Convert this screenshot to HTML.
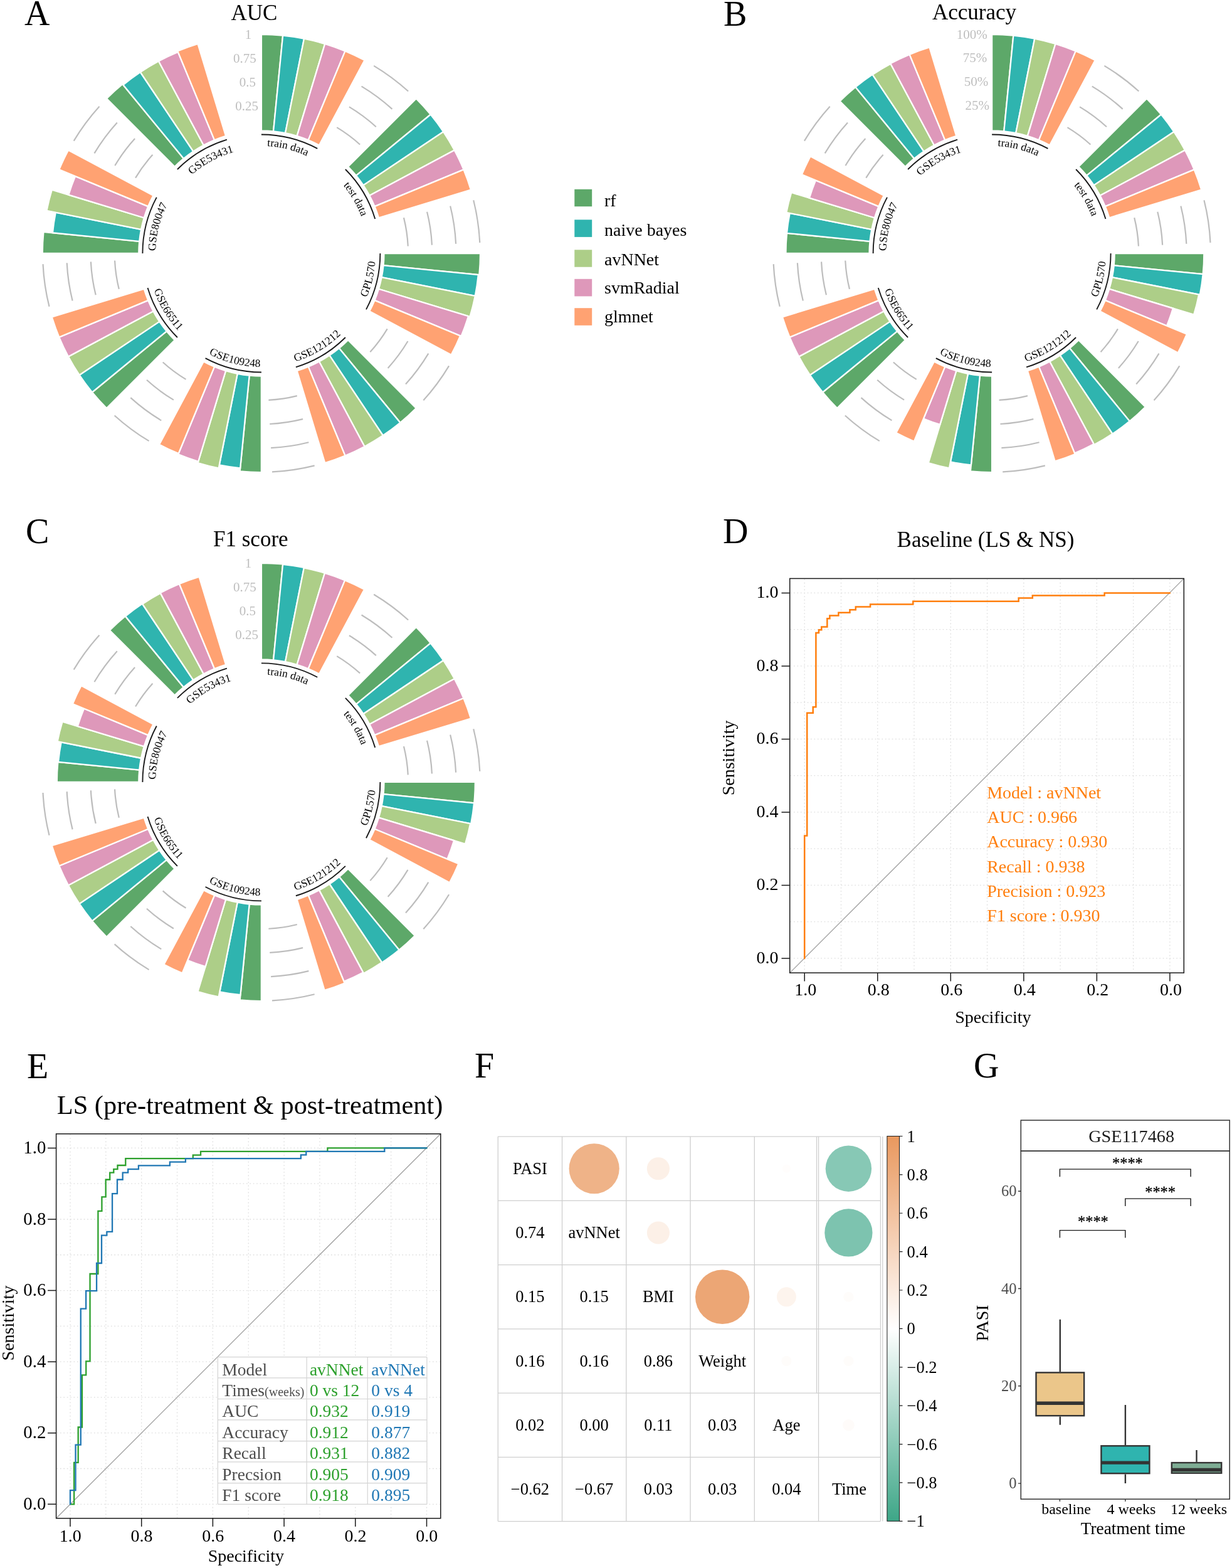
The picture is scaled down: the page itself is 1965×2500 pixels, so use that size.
<!DOCTYPE html>
<html><head><meta charset="utf-8"><title>Figure</title>
<style>html,body{margin:0;padding:0;background:#fff}svg{display:block}</style></head>
<body><svg width="1965" height="2500" viewBox="0 0 1965 2500" font-family='"Liberation Serif", "Times New Roman", serif'>
<rect width="1965" height="2500" fill="#fff"/>
<path d="M537.26 203.18A234.12 234.12 0 0 1 574.13 230.52M556.92 170.4A272.35 272.35 0 0 1 599.8 202.2M576.57 137.61A310.58 310.58 0 0 1 625.47 173.88M596.22 104.82A348.8 348.8 0 0 1 651.14 145.56M644.01 347.11A234.12 234.12 0 0 1 650.74 392.51M681.09 337.82A272.35 272.35 0 0 1 688.92 390.64M718.17 328.54A310.58 310.58 0 0 1 727.1 388.76M755.25 319.25A348.8 348.8 0 0 1 765.28 386.89M617.72 524.36A234.12 234.12 0 0 1 590.38 561.23M650.5 544.02A272.35 272.35 0 0 1 618.7 586.9M683.29 563.67A310.58 310.58 0 0 1 647.02 612.57M716.08 583.32A348.8 348.8 0 0 1 675.34 638.24M473.79 631.11A234.12 234.12 0 0 1 428.39 637.84M483.08 668.19A272.35 272.35 0 0 1 430.26 676.02M492.36 705.27A310.58 310.58 0 0 1 432.14 714.2M501.65 742.35A348.8 348.8 0 0 1 434.01 752.38M296.54 604.82A234.12 234.12 0 0 1 259.67 577.48M276.88 637.6A272.35 272.35 0 0 1 234 605.8M257.23 670.39A310.58 310.58 0 0 1 208.33 634.12M237.58 703.18A348.8 348.8 0 0 1 182.66 662.44M189.79 460.89A234.12 234.12 0 0 1 183.06 415.49M152.71 470.18A272.35 272.35 0 0 1 144.88 417.36M115.63 479.46A310.58 310.58 0 0 1 106.7 419.24M78.55 488.75A348.8 348.8 0 0 1 68.52 421.11M216.08 283.64A234.12 234.12 0 0 1 243.42 246.77M183.3 263.98A272.35 272.35 0 0 1 215.1 221.1M150.51 244.33A310.58 310.58 0 0 1 186.78 195.43M117.72 224.68A348.8 348.8 0 0 1 158.46 169.76" fill="none" stroke="#BDBDBD" stroke-width="2.2"/>
<path d="M416.9 208.45L416.9 54.85A349.15 349.15 0 0 1 451.12 56.53L436.07 209.39A195.55 195.55 0 0 0 416.9 208.45Z" fill="#5DA869" stroke="#fff" stroke-width="2.3"/>
<path d="M436.07 209.39L451.12 56.53A349.15 349.15 0 0 1 485.02 61.56L455.05 212.21A195.55 195.55 0 0 0 436.07 209.39Z" fill="#2FB4AF" stroke="#fff" stroke-width="2.3"/>
<path d="M455.05 212.21L485.02 61.56A349.15 349.15 0 0 1 518.25 69.88L473.67 216.87A195.55 195.55 0 0 0 455.05 212.21Z" fill="#ADCE88" stroke="#fff" stroke-width="2.3"/>
<path d="M473.67 216.87L518.25 69.88A349.15 349.15 0 0 1 550.51 81.43L491.73 223.34A195.55 195.55 0 0 0 473.67 216.87Z" fill="#DE98BA" stroke="#fff" stroke-width="2.3"/>
<path d="M491.73 223.34L550.51 81.43A349.15 349.15 0 0 1 581.49 96.08L509.08 231.54A195.55 195.55 0 0 0 491.73 223.34Z" fill="#FFA272" stroke="#fff" stroke-width="2.3"/>
<path d="M555.17 265.73L663.79 157.11A349.15 349.15 0 0 1 686.8 182.5L568.06 279.94A195.55 195.55 0 0 0 555.17 265.73Z" fill="#5DA869" stroke="#fff" stroke-width="2.3"/>
<path d="M568.06 279.94L686.8 182.5A349.15 349.15 0 0 1 707.21 210.02L579.49 295.36A195.55 195.55 0 0 0 568.06 279.94Z" fill="#2FB4AF" stroke="#fff" stroke-width="2.3"/>
<path d="M579.49 295.36L707.21 210.02A349.15 349.15 0 0 1 724.82 239.41L589.36 311.82A195.55 195.55 0 0 0 579.49 295.36Z" fill="#ADCE88" stroke="#fff" stroke-width="2.3"/>
<path d="M589.36 311.82L724.82 239.41A349.15 349.15 0 0 1 739.47 270.39L597.56 329.17A195.55 195.55 0 0 0 589.36 311.82Z" fill="#DE98BA" stroke="#fff" stroke-width="2.3"/>
<path d="M597.56 329.17L739.47 270.39A349.15 349.15 0 0 1 751.02 302.65L604.03 347.23A195.55 195.55 0 0 0 597.56 329.17Z" fill="#FFA272" stroke="#fff" stroke-width="2.3"/>
<path d="M612.45 404L766.05 404A349.15 349.15 0 0 1 764.37 438.22L611.51 423.17A195.55 195.55 0 0 0 612.45 404Z" fill="#5DA869" stroke="#fff" stroke-width="2.3"/>
<path d="M611.51 423.17L762.84 438.07A347.61 347.61 0 0 1 757.83 471.82L608.69 442.15A195.55 195.55 0 0 0 611.51 423.17Z" fill="#2FB4AF" stroke="#fff" stroke-width="2.3"/>
<path d="M608.69 442.15L757.83 471.82A347.61 347.61 0 0 1 749.54 504.91L604.03 460.77A195.55 195.55 0 0 0 608.69 442.15Z" fill="#ADCE88" stroke="#fff" stroke-width="2.3"/>
<path d="M604.03 460.77L747.04 504.15A345 345 0 0 1 735.64 536.03L597.56 478.83A195.55 195.55 0 0 0 604.03 460.77Z" fill="#DE98BA" stroke="#fff" stroke-width="2.3"/>
<path d="M597.56 478.83L734.08 535.38A343.31 343.31 0 0 1 719.67 565.83L589.36 496.18A195.55 195.55 0 0 0 597.56 478.83Z" fill="#FFA272" stroke="#fff" stroke-width="2.3"/>
<path d="M555.17 542.27L663.79 650.89A349.15 349.15 0 0 1 638.4 673.9L540.96 555.16A195.55 195.55 0 0 0 555.17 542.27Z" fill="#5DA869" stroke="#fff" stroke-width="2.3"/>
<path d="M540.96 555.16L638.4 673.9A349.15 349.15 0 0 1 610.88 694.31L525.54 566.59A195.55 195.55 0 0 0 540.96 555.16Z" fill="#2FB4AF" stroke="#fff" stroke-width="2.3"/>
<path d="M525.54 566.59L610.88 694.31A349.15 349.15 0 0 1 581.49 711.92L509.08 576.46A195.55 195.55 0 0 0 525.54 566.59Z" fill="#ADCE88" stroke="#fff" stroke-width="2.3"/>
<path d="M509.08 576.46L581.49 711.92A349.15 349.15 0 0 1 550.51 726.57L491.73 584.66A195.55 195.55 0 0 0 509.08 576.46Z" fill="#DE98BA" stroke="#fff" stroke-width="2.3"/>
<path d="M491.73 584.66L550.51 726.57A349.15 349.15 0 0 1 518.25 738.12L473.67 591.13A195.55 195.55 0 0 0 491.73 584.66Z" fill="#FFA272" stroke="#fff" stroke-width="2.3"/>
<path d="M416.9 599.55L416.9 753.15A349.15 349.15 0 0 1 382.68 751.47L397.73 598.61A195.55 195.55 0 0 0 416.9 599.55Z" fill="#5DA869" stroke="#fff" stroke-width="2.3"/>
<path d="M397.73 598.61L383.19 746.27A343.92 343.92 0 0 1 349.8 741.32L378.75 595.79A195.55 195.55 0 0 0 397.73 598.61Z" fill="#2FB4AF" stroke="#fff" stroke-width="2.3"/>
<path d="M378.75 595.79L348.78 746.44A349.15 349.15 0 0 1 315.55 738.12L360.13 591.13A195.55 195.55 0 0 0 378.75 595.79Z" fill="#ADCE88" stroke="#fff" stroke-width="2.3"/>
<path d="M360.13 591.13L316.26 735.76A346.69 346.69 0 0 1 284.23 724.3L342.07 584.66A195.55 195.55 0 0 0 360.13 591.13Z" fill="#DE98BA" stroke="#fff" stroke-width="2.3"/>
<path d="M342.07 584.66L284.7 723.16A345.46 345.46 0 0 1 254.05 708.67L324.72 576.46A195.55 195.55 0 0 0 342.07 584.66Z" fill="#FFA272" stroke="#fff" stroke-width="2.3"/>
<path d="M278.63 542.27L170.01 650.89A349.15 349.15 0 0 1 147 625.5L265.74 528.06A195.55 195.55 0 0 0 278.63 542.27Z" fill="#5DA869" stroke="#fff" stroke-width="2.3"/>
<path d="M265.74 528.06L147 625.5A349.15 349.15 0 0 1 126.59 597.98L254.31 512.64A195.55 195.55 0 0 0 265.74 528.06Z" fill="#2FB4AF" stroke="#fff" stroke-width="2.3"/>
<path d="M254.31 512.64L126.59 597.98A349.15 349.15 0 0 1 108.98 568.59L244.44 496.18A195.55 195.55 0 0 0 254.31 512.64Z" fill="#ADCE88" stroke="#fff" stroke-width="2.3"/>
<path d="M244.44 496.18L108.98 568.59A349.15 349.15 0 0 1 94.33 537.61L236.24 478.83A195.55 195.55 0 0 0 244.44 496.18Z" fill="#DE98BA" stroke="#fff" stroke-width="2.3"/>
<path d="M236.24 478.83L94.33 537.61A349.15 349.15 0 0 1 82.78 505.35L229.77 460.77A195.55 195.55 0 0 0 236.24 478.83Z" fill="#FFA272" stroke="#fff" stroke-width="2.3"/>
<path d="M221.35 404L67.75 404A349.15 349.15 0 0 1 69.43 369.78L222.29 384.83A195.55 195.55 0 0 0 221.35 404Z" fill="#5DA869" stroke="#fff" stroke-width="2.3"/>
<path d="M222.29 384.83L83.96 371.21A334.55 334.55 0 0 1 88.78 338.73L225.11 365.85A195.55 195.55 0 0 0 222.29 384.83Z" fill="#2FB4AF" stroke="#fff" stroke-width="2.3"/>
<path d="M225.11 365.85L74.46 335.88A349.15 349.15 0 0 1 82.78 302.65L229.77 347.23A195.55 195.55 0 0 0 225.11 365.85Z" fill="#ADCE88" stroke="#fff" stroke-width="2.3"/>
<path d="M229.77 347.23L109.41 310.72A321.33 321.33 0 0 1 120.03 281.03L236.24 329.17A195.55 195.55 0 0 0 229.77 347.23Z" fill="#DE98BA" stroke="#fff" stroke-width="2.3"/>
<path d="M236.24 329.17L94.33 270.39A349.15 349.15 0 0 1 108.98 239.41L244.44 311.82A195.55 195.55 0 0 0 236.24 329.17Z" fill="#FFA272" stroke="#fff" stroke-width="2.3"/>
<path d="M278.63 265.73L170.01 157.11A349.15 349.15 0 0 1 195.4 134.1L292.84 252.84A195.55 195.55 0 0 0 278.63 265.73Z" fill="#5DA869" stroke="#fff" stroke-width="2.3"/>
<path d="M292.84 252.84L196.38 135.29A347.61 347.61 0 0 1 223.78 114.97L308.26 241.41A195.55 195.55 0 0 0 292.84 252.84Z" fill="#2FB4AF" stroke="#fff" stroke-width="2.3"/>
<path d="M308.26 241.41L223.78 114.97A347.61 347.61 0 0 1 253.04 97.43L324.72 231.54A195.55 195.55 0 0 0 308.26 241.41Z" fill="#ADCE88" stroke="#fff" stroke-width="2.3"/>
<path d="M324.72 231.54L253.04 97.43A347.61 347.61 0 0 1 283.87 82.85L342.07 223.34A195.55 195.55 0 0 0 324.72 231.54Z" fill="#DE98BA" stroke="#fff" stroke-width="2.3"/>
<path d="M342.07 223.34L283.29 81.43A349.15 349.15 0 0 1 315.55 69.88L360.13 216.87A195.55 195.55 0 0 0 342.07 223.34Z" fill="#FFA272" stroke="#fff" stroke-width="2.3"/>
<path d="M416.9 214.5A189.5 189.5 0 0 1 506.23 236.88M550.9 270A189.5 189.5 0 0 1 598.24 348.99M606.4 404A189.5 189.5 0 0 1 584.02 493.33M550.9 538A189.5 189.5 0 0 1 471.91 585.34M416.9 593.5A189.5 189.5 0 0 1 327.57 571.12M282.9 538A189.5 189.5 0 0 1 235.56 459.01M227.4 404A189.5 189.5 0 0 1 249.78 314.67M282.9 270A189.5 189.5 0 0 1 361.89 222.66" fill="none" stroke="#1a1a1a" stroke-width="1.9"/>
<path id="lpA0" d="M328.83 257.07A171.3 171.3 0 0 1 563.83 315.93" fill="none"/>
<text font-size="17.5" text-anchor="middle"><textPath href="#lpA0" startOffset="50%">train data</textPath></text>
<path id="lpA1" d="M461.03 240.03A169.8 169.8 0 0 1 580.87 448.13" fill="none"/>
<text font-size="17.5" text-anchor="middle"><textPath href="#lpA1" startOffset="50%">test data</textPath></text>
<path id="lpA2" d="M512.1 559.12A182 182 0 0 0 572.02 308.8" fill="none"/>
<text font-size="17.5" text-anchor="middle"><textPath href="#lpA2" startOffset="50%">GPL570</textPath></text>
<path id="lpA3" d="M372.92 579.58A181 181 0 0 0 592.48 447.98" fill="none"/>
<text font-size="17.5" text-anchor="middle"><textPath href="#lpA3" startOffset="50%">GSE121212</textPath></text>
<path id="lpA4" d="M261.65 497.05A181 181 0 0 0 509.95 559.25" fill="none"/>
<text font-size="17.5" text-anchor="middle"><textPath href="#lpA4" startOffset="50%">GSE109248</textPath></text>
<path id="lpA5" d="M241.32 360.02A181 181 0 0 0 372.92 579.58" fill="none"/>
<text font-size="17.5" text-anchor="middle"><textPath href="#lpA5" startOffset="50%">GSE66511</textPath></text>
<path id="lpA6" d="M271.66 490.02A168.8 168.8 0 0 1 330.88 258.76" fill="none"/>
<text font-size="17.5" text-anchor="middle"><textPath href="#lpA6" startOffset="50%">GSE80047</textPath></text>
<path id="lpA7" d="M256.54 356.31A167.3 167.3 0 0 1 464.59 243.64" fill="none"/>
<text font-size="17.5" text-anchor="middle"><textPath href="#lpA7" startOffset="50%">GSE53431</textPath></text>
<text x="401.3" y="61.9" font-size="21" fill="#BEBEBE" text-anchor="end">1</text>
<text x="408.7" y="99.7" font-size="21" fill="#BEBEBE" text-anchor="end">0.75</text>
<text x="408" y="137.7" font-size="21" fill="#BEBEBE" text-anchor="end">0.5</text>
<text x="412" y="175.8" font-size="21" fill="#BEBEBE" text-anchor="end">0.25</text>
<path d="M1702.46 203.18A234.12 234.12 0 0 1 1739.33 230.52M1722.12 170.4A272.35 272.35 0 0 1 1765 202.2M1741.77 137.61A310.58 310.58 0 0 1 1790.67 173.88M1761.42 104.82A348.8 348.8 0 0 1 1816.34 145.56M1809.21 347.11A234.12 234.12 0 0 1 1815.94 392.51M1846.29 337.82A272.35 272.35 0 0 1 1854.12 390.64M1883.37 328.54A310.58 310.58 0 0 1 1892.3 388.76M1920.45 319.25A348.8 348.8 0 0 1 1930.48 386.89M1782.92 524.36A234.12 234.12 0 0 1 1755.58 561.23M1815.7 544.02A272.35 272.35 0 0 1 1783.9 586.9M1848.49 563.67A310.58 310.58 0 0 1 1812.22 612.57M1881.28 583.32A348.8 348.8 0 0 1 1840.54 638.24M1638.99 631.11A234.12 234.12 0 0 1 1593.59 637.84M1648.28 668.19A272.35 272.35 0 0 1 1595.46 676.02M1657.56 705.27A310.58 310.58 0 0 1 1597.34 714.2M1666.85 742.35A348.8 348.8 0 0 1 1599.21 752.38M1461.74 604.82A234.12 234.12 0 0 1 1424.87 577.48M1442.08 637.6A272.35 272.35 0 0 1 1399.2 605.8M1422.43 670.39A310.58 310.58 0 0 1 1373.53 634.12M1402.78 703.18A348.8 348.8 0 0 1 1347.86 662.44M1354.99 460.89A234.12 234.12 0 0 1 1348.26 415.49M1317.91 470.18A272.35 272.35 0 0 1 1310.08 417.36M1280.83 479.46A310.58 310.58 0 0 1 1271.9 419.24M1243.75 488.75A348.8 348.8 0 0 1 1233.72 421.11M1381.28 283.64A234.12 234.12 0 0 1 1408.62 246.77M1348.5 263.98A272.35 272.35 0 0 1 1380.3 221.1M1315.71 244.33A310.58 310.58 0 0 1 1351.98 195.43M1282.92 224.68A348.8 348.8 0 0 1 1323.66 169.76" fill="none" stroke="#BDBDBD" stroke-width="2.2"/>
<path d="M1582.1 208.45L1582.1 54.85A349.15 349.15 0 0 1 1616.32 56.53L1601.27 209.39A195.55 195.55 0 0 0 1582.1 208.45Z" fill="#5DA869" stroke="#fff" stroke-width="2.3"/>
<path d="M1601.27 209.39L1616.32 56.53A349.15 349.15 0 0 1 1650.22 61.56L1620.25 212.21A195.55 195.55 0 0 0 1601.27 209.39Z" fill="#2FB4AF" stroke="#fff" stroke-width="2.3"/>
<path d="M1620.25 212.21L1650.22 61.56A349.15 349.15 0 0 1 1683.45 69.88L1638.87 216.87A195.55 195.55 0 0 0 1620.25 212.21Z" fill="#ADCE88" stroke="#fff" stroke-width="2.3"/>
<path d="M1638.87 216.87L1683.45 69.88A349.15 349.15 0 0 1 1715.71 81.43L1656.93 223.34A195.55 195.55 0 0 0 1638.87 216.87Z" fill="#DE98BA" stroke="#fff" stroke-width="2.3"/>
<path d="M1656.93 223.34L1715.71 81.43A349.15 349.15 0 0 1 1746.69 96.08L1674.28 231.54A195.55 195.55 0 0 0 1656.93 223.34Z" fill="#FFA272" stroke="#fff" stroke-width="2.3"/>
<path d="M1720.37 265.73L1828.99 157.11A349.15 349.15 0 0 1 1852 182.5L1733.26 279.94A195.55 195.55 0 0 0 1720.37 265.73Z" fill="#5DA869" stroke="#fff" stroke-width="2.3"/>
<path d="M1733.26 279.94L1852 182.5A349.15 349.15 0 0 1 1872.41 210.02L1744.69 295.36A195.55 195.55 0 0 0 1733.26 279.94Z" fill="#2FB4AF" stroke="#fff" stroke-width="2.3"/>
<path d="M1744.69 295.36L1872.41 210.02A349.15 349.15 0 0 1 1890.02 239.41L1754.56 311.82A195.55 195.55 0 0 0 1744.69 295.36Z" fill="#ADCE88" stroke="#fff" stroke-width="2.3"/>
<path d="M1754.56 311.82L1890.02 239.41A349.15 349.15 0 0 1 1904.67 270.39L1762.76 329.17A195.55 195.55 0 0 0 1754.56 311.82Z" fill="#DE98BA" stroke="#fff" stroke-width="2.3"/>
<path d="M1762.76 329.17L1904.67 270.39A349.15 349.15 0 0 1 1916.22 302.65L1769.23 347.23A195.55 195.55 0 0 0 1762.76 329.17Z" fill="#FFA272" stroke="#fff" stroke-width="2.3"/>
<path d="M1777.65 404L1920.34 404A338.24 338.24 0 0 1 1918.71 437.15L1776.71 423.17A195.55 195.55 0 0 0 1777.65 404Z" fill="#5DA869" stroke="#fff" stroke-width="2.3"/>
<path d="M1776.71 423.17L1918.71 437.15A338.24 338.24 0 0 1 1913.84 469.99L1773.89 442.15A195.55 195.55 0 0 0 1776.71 423.17Z" fill="#2FB4AF" stroke="#fff" stroke-width="2.3"/>
<path d="M1773.89 442.15L1912.18 469.66A336.55 336.55 0 0 1 1904.16 501.69L1769.23 460.77A195.55 195.55 0 0 0 1773.89 442.15Z" fill="#ADCE88" stroke="#fff" stroke-width="2.3"/>
<path d="M1769.23 460.77L1870.91 491.61A301.81 301.81 0 0 1 1860.94 519.5L1762.76 478.83A195.55 195.55 0 0 0 1769.23 460.77Z" fill="#DE98BA" stroke="#fff" stroke-width="2.3"/>
<path d="M1762.76 478.83L1892.89 532.73A336.39 336.39 0 0 1 1878.77 562.57L1754.56 496.18A195.55 195.55 0 0 0 1762.76 478.83Z" fill="#FFA272" stroke="#fff" stroke-width="2.3"/>
<path d="M1720.37 542.27L1826.92 648.82A346.23 346.23 0 0 1 1801.75 671.64L1706.16 555.16A195.55 195.55 0 0 0 1720.37 542.27Z" fill="#5DA869" stroke="#fff" stroke-width="2.3"/>
<path d="M1706.16 555.16L1801.65 671.52A346.08 346.08 0 0 1 1774.37 691.75L1690.74 566.59A195.55 195.55 0 0 0 1706.16 555.16Z" fill="#2FB4AF" stroke="#fff" stroke-width="2.3"/>
<path d="M1690.74 566.59L1774.28 691.62A345.92 345.92 0 0 1 1745.17 709.08L1674.28 576.46A195.55 195.55 0 0 0 1690.74 566.59Z" fill="#ADCE88" stroke="#fff" stroke-width="2.3"/>
<path d="M1674.28 576.46L1744.59 707.99A344.69 344.69 0 0 1 1714.01 722.45L1656.93 584.66A195.55 195.55 0 0 0 1674.28 576.46Z" fill="#DE98BA" stroke="#fff" stroke-width="2.3"/>
<path d="M1656.93 584.66L1714.66 724.02A346.38 346.38 0 0 1 1682.65 735.47L1638.87 591.13A195.55 195.55 0 0 0 1656.93 584.66Z" fill="#FFA272" stroke="#fff" stroke-width="2.3"/>
<path d="M1582.1 599.55L1582.1 753.15A349.15 349.15 0 0 1 1547.88 751.47L1562.93 598.61A195.55 195.55 0 0 0 1582.1 599.55Z" fill="#5DA869" stroke="#fff" stroke-width="2.3"/>
<path d="M1562.93 598.61L1548.87 741.37A339.01 339.01 0 0 1 1515.96 736.49L1543.95 595.79A195.55 195.55 0 0 0 1562.93 598.61Z" fill="#2FB4AF" stroke="#fff" stroke-width="2.3"/>
<path d="M1543.95 595.79L1513.98 746.44A349.15 349.15 0 0 1 1480.75 738.12L1525.33 591.13A195.55 195.55 0 0 0 1543.95 595.79Z" fill="#ADCE88" stroke="#fff" stroke-width="2.3"/>
<path d="M1525.33 591.13L1499.31 676.93A285.21 285.21 0 0 1 1472.95 667.5L1507.27 584.66A195.55 195.55 0 0 0 1525.33 591.13Z" fill="#DE98BA" stroke="#fff" stroke-width="2.3"/>
<path d="M1507.27 584.66L1457.96 703.71A324.4 324.4 0 0 1 1429.18 690.1L1489.92 576.46A195.55 195.55 0 0 0 1507.27 584.66Z" fill="#FFA272" stroke="#fff" stroke-width="2.3"/>
<path d="M1443.83 542.27L1335.21 650.89A349.15 349.15 0 0 1 1312.2 625.5L1430.94 528.06A195.55 195.55 0 0 0 1443.83 542.27Z" fill="#5DA869" stroke="#fff" stroke-width="2.3"/>
<path d="M1430.94 528.06L1312.2 625.5A349.15 349.15 0 0 1 1291.79 597.98L1419.51 512.64A195.55 195.55 0 0 0 1430.94 528.06Z" fill="#2FB4AF" stroke="#fff" stroke-width="2.3"/>
<path d="M1419.51 512.64L1291.79 597.98A349.15 349.15 0 0 1 1274.18 568.59L1409.64 496.18A195.55 195.55 0 0 0 1419.51 512.64Z" fill="#ADCE88" stroke="#fff" stroke-width="2.3"/>
<path d="M1409.64 496.18L1274.18 568.59A349.15 349.15 0 0 1 1259.53 537.61L1401.44 478.83A195.55 195.55 0 0 0 1409.64 496.18Z" fill="#DE98BA" stroke="#fff" stroke-width="2.3"/>
<path d="M1401.44 478.83L1259.53 537.61A349.15 349.15 0 0 1 1247.98 505.35L1394.97 460.77A195.55 195.55 0 0 0 1401.44 478.83Z" fill="#FFA272" stroke="#fff" stroke-width="2.3"/>
<path d="M1386.55 404L1253.39 404A328.71 328.71 0 0 1 1254.97 371.78L1387.49 384.83A195.55 195.55 0 0 0 1386.55 404Z" fill="#5DA869" stroke="#fff" stroke-width="2.3"/>
<path d="M1387.49 384.83L1254.97 371.78A328.71 328.71 0 0 1 1259.71 339.87L1390.31 365.85A195.55 195.55 0 0 0 1387.49 384.83Z" fill="#2FB4AF" stroke="#fff" stroke-width="2.3"/>
<path d="M1390.31 365.85L1254.28 338.79A334.24 334.24 0 0 1 1262.25 306.97L1394.97 347.23A195.55 195.55 0 0 0 1390.31 365.85Z" fill="#ADCE88" stroke="#fff" stroke-width="2.3"/>
<path d="M1394.97 347.23L1290.93 315.68A304.27 304.27 0 0 1 1300.99 287.56L1401.44 329.17A195.55 195.55 0 0 0 1394.97 347.23Z" fill="#DE98BA" stroke="#fff" stroke-width="2.3"/>
<path d="M1401.44 329.17L1278.84 278.39A328.25 328.25 0 0 1 1292.61 249.27L1409.64 311.82A195.55 195.55 0 0 0 1401.44 329.17Z" fill="#FFA272" stroke="#fff" stroke-width="2.3"/>
<path d="M1443.83 265.73L1339.45 161.35A343.16 343.16 0 0 1 1364.4 138.74L1458.04 252.84A195.55 195.55 0 0 0 1443.83 265.73Z" fill="#5DA869" stroke="#fff" stroke-width="2.3"/>
<path d="M1458.04 252.84L1364.4 138.74A343.16 343.16 0 0 1 1391.45 118.68L1473.46 241.41A195.55 195.55 0 0 0 1458.04 252.84Z" fill="#2FB4AF" stroke="#fff" stroke-width="2.3"/>
<path d="M1473.46 241.41L1391.62 118.93A342.85 342.85 0 0 1 1420.48 101.63L1489.92 231.54A195.55 195.55 0 0 0 1473.46 241.41Z" fill="#ADCE88" stroke="#fff" stroke-width="2.3"/>
<path d="M1489.92 231.54L1420.27 101.23A343.31 343.31 0 0 1 1450.72 86.82L1507.27 223.34A195.55 195.55 0 0 0 1489.92 231.54Z" fill="#DE98BA" stroke="#fff" stroke-width="2.3"/>
<path d="M1507.27 223.34L1450.72 86.82A343.31 343.31 0 0 1 1482.44 75.47L1525.33 216.87A195.55 195.55 0 0 0 1507.27 223.34Z" fill="#FFA272" stroke="#fff" stroke-width="2.3"/>
<path d="M1582.1 214.5A189.5 189.5 0 0 1 1671.43 236.88M1716.1 270A189.5 189.5 0 0 1 1763.44 348.99M1771.6 404A189.5 189.5 0 0 1 1749.22 493.33M1716.1 538A189.5 189.5 0 0 1 1637.11 585.34M1582.1 593.5A189.5 189.5 0 0 1 1492.77 571.12M1448.1 538A189.5 189.5 0 0 1 1400.76 459.01M1392.6 404A189.5 189.5 0 0 1 1414.98 314.67M1448.1 270A189.5 189.5 0 0 1 1527.09 222.66" fill="none" stroke="#1a1a1a" stroke-width="1.9"/>
<path id="lpB0" d="M1494.03 257.07A171.3 171.3 0 0 1 1729.03 315.93" fill="none"/>
<text font-size="17.5" text-anchor="middle"><textPath href="#lpB0" startOffset="50%">train data</textPath></text>
<path id="lpB1" d="M1626.23 240.03A169.8 169.8 0 0 1 1746.07 448.13" fill="none"/>
<text font-size="17.5" text-anchor="middle"><textPath href="#lpB1" startOffset="50%">test data</textPath></text>
<path id="lpB2" d="M1677.3 559.12A182 182 0 0 0 1737.22 308.8" fill="none"/>
<text font-size="17.5" text-anchor="middle"><textPath href="#lpB2" startOffset="50%">GPL570</textPath></text>
<path id="lpB3" d="M1538.12 579.58A181 181 0 0 0 1757.68 447.98" fill="none"/>
<text font-size="17.5" text-anchor="middle"><textPath href="#lpB3" startOffset="50%">GSE121212</textPath></text>
<path id="lpB4" d="M1426.85 497.05A181 181 0 0 0 1675.15 559.25" fill="none"/>
<text font-size="17.5" text-anchor="middle"><textPath href="#lpB4" startOffset="50%">GSE109248</textPath></text>
<path id="lpB5" d="M1406.52 360.02A181 181 0 0 0 1538.12 579.58" fill="none"/>
<text font-size="17.5" text-anchor="middle"><textPath href="#lpB5" startOffset="50%">GSE66511</textPath></text>
<path id="lpB6" d="M1436.86 490.02A168.8 168.8 0 0 1 1496.08 258.76" fill="none"/>
<text font-size="17.5" text-anchor="middle"><textPath href="#lpB6" startOffset="50%">GSE80047</textPath></text>
<path id="lpB7" d="M1419.74 359.7A168.3 168.3 0 0 1 1626.4 241.64" fill="none"/>
<text font-size="17.5" text-anchor="middle"><textPath href="#lpB7" startOffset="50%">GSE53431</textPath></text>
<text x="1574.7" y="61.6" font-size="21" fill="#BEBEBE" text-anchor="end">100%</text>
<text x="1574.3" y="99.3" font-size="21" fill="#BEBEBE" text-anchor="end">75%</text>
<text x="1576.3" y="137" font-size="21" fill="#BEBEBE" text-anchor="end">50%</text>
<text x="1577.9" y="174.8" font-size="21" fill="#BEBEBE" text-anchor="end">25%</text>
<path d="M537.26 1046.08A234.12 234.12 0 0 1 574.13 1073.42M556.92 1013.3A272.35 272.35 0 0 1 599.8 1045.1M576.57 980.51A310.58 310.58 0 0 1 625.47 1016.78M596.22 947.72A348.8 348.8 0 0 1 651.14 988.46M644.01 1190.01A234.12 234.12 0 0 1 650.74 1235.41M681.09 1180.72A272.35 272.35 0 0 1 688.92 1233.54M718.17 1171.44A310.58 310.58 0 0 1 727.1 1231.66M755.25 1162.15A348.8 348.8 0 0 1 765.28 1229.79M617.72 1367.26A234.12 234.12 0 0 1 590.38 1404.13M650.5 1386.92A272.35 272.35 0 0 1 618.7 1429.8M683.29 1406.57A310.58 310.58 0 0 1 647.02 1455.47M716.08 1426.22A348.8 348.8 0 0 1 675.34 1481.14M473.79 1474.01A234.12 234.12 0 0 1 428.39 1480.74M483.08 1511.09A272.35 272.35 0 0 1 430.26 1518.92M492.36 1548.17A310.58 310.58 0 0 1 432.14 1557.1M501.65 1585.25A348.8 348.8 0 0 1 434.01 1595.28M296.54 1447.72A234.12 234.12 0 0 1 259.67 1420.38M276.88 1480.5A272.35 272.35 0 0 1 234 1448.7M257.23 1513.29A310.58 310.58 0 0 1 208.33 1477.02M237.58 1546.08A348.8 348.8 0 0 1 182.66 1505.34M189.79 1303.79A234.12 234.12 0 0 1 183.06 1258.39M152.71 1313.08A272.35 272.35 0 0 1 144.88 1260.26M115.63 1322.36A310.58 310.58 0 0 1 106.7 1262.14M78.55 1331.65A348.8 348.8 0 0 1 68.52 1264.01M216.08 1126.54A234.12 234.12 0 0 1 243.42 1089.67M183.3 1106.88A272.35 272.35 0 0 1 215.1 1064M150.51 1087.23A310.58 310.58 0 0 1 186.78 1038.33M117.72 1067.58A348.8 348.8 0 0 1 158.46 1012.66" fill="none" stroke="#BDBDBD" stroke-width="2.2"/>
<path d="M416.9 1051.35L416.9 897.75A349.15 349.15 0 0 1 451.12 899.43L436.07 1052.29A195.55 195.55 0 0 0 416.9 1051.35Z" fill="#5DA869" stroke="#fff" stroke-width="2.3"/>
<path d="M436.07 1052.29L451.09 899.74A348.84 348.84 0 0 1 484.96 904.76L455.05 1055.11A195.55 195.55 0 0 0 436.07 1052.29Z" fill="#2FB4AF" stroke="#fff" stroke-width="2.3"/>
<path d="M455.05 1055.11L484.84 905.36A348.23 348.23 0 0 1 517.99 913.67L473.67 1059.77A195.55 195.55 0 0 0 455.05 1055.11Z" fill="#ADCE88" stroke="#fff" stroke-width="2.3"/>
<path d="M473.67 1059.77L517.99 913.67A348.23 348.23 0 0 1 550.16 925.18L491.73 1066.24A195.55 195.55 0 0 0 473.67 1059.77Z" fill="#DE98BA" stroke="#fff" stroke-width="2.3"/>
<path d="M491.73 1066.24L550.16 925.18A348.23 348.23 0 0 1 581.05 939.79L509.08 1074.44A195.55 195.55 0 0 0 491.73 1066.24Z" fill="#FFA272" stroke="#fff" stroke-width="2.3"/>
<path d="M555.17 1108.63L663.79 1000.01A349.15 349.15 0 0 1 686.8 1025.4L568.06 1122.84A195.55 195.55 0 0 0 555.17 1108.63Z" fill="#5DA869" stroke="#fff" stroke-width="2.3"/>
<path d="M568.06 1122.84L686.8 1025.4A349.15 349.15 0 0 1 707.21 1052.92L579.49 1138.26A195.55 195.55 0 0 0 568.06 1122.84Z" fill="#2FB4AF" stroke="#fff" stroke-width="2.3"/>
<path d="M579.49 1138.26L707.21 1052.92A349.15 349.15 0 0 1 724.82 1082.31L589.36 1154.72A195.55 195.55 0 0 0 579.49 1138.26Z" fill="#ADCE88" stroke="#fff" stroke-width="2.3"/>
<path d="M589.36 1154.72L724.82 1082.31A349.15 349.15 0 0 1 739.47 1113.29L597.56 1172.07A195.55 195.55 0 0 0 589.36 1154.72Z" fill="#DE98BA" stroke="#fff" stroke-width="2.3"/>
<path d="M597.56 1172.07L739.47 1113.29A349.15 349.15 0 0 1 751.02 1145.55L604.03 1190.13A195.55 195.55 0 0 0 597.56 1172.07Z" fill="#FFA272" stroke="#fff" stroke-width="2.3"/>
<path d="M612.45 1246.9L757.9 1246.9A341 341 0 0 1 756.26 1280.32L611.51 1266.07A195.55 195.55 0 0 0 612.45 1246.9Z" fill="#5DA869" stroke="#fff" stroke-width="2.3"/>
<path d="M611.51 1266.07L756.11 1280.31A340.85 340.85 0 0 1 751.2 1313.4L608.69 1285.05A195.55 195.55 0 0 0 611.51 1266.07Z" fill="#2FB4AF" stroke="#fff" stroke-width="2.3"/>
<path d="M608.69 1285.05L750.15 1313.19A339.77 339.77 0 0 1 742.04 1345.53L604.03 1303.67A195.55 195.55 0 0 0 608.69 1285.05Z" fill="#ADCE88" stroke="#fff" stroke-width="2.3"/>
<path d="M604.03 1303.67L724.1 1340.09A321.02 321.02 0 0 1 713.49 1369.75L597.56 1321.73A195.55 195.55 0 0 0 604.03 1303.67Z" fill="#DE98BA" stroke="#fff" stroke-width="2.3"/>
<path d="M597.56 1321.73L731.38 1377.16A340.39 340.39 0 0 1 717.1 1407.36L589.36 1339.08A195.55 195.55 0 0 0 597.56 1321.73Z" fill="#FFA272" stroke="#fff" stroke-width="2.3"/>
<path d="M555.17 1385.17L661.83 1491.83A346.38 346.38 0 0 1 636.64 1514.66L540.96 1398.06A195.55 195.55 0 0 0 555.17 1385.17Z" fill="#5DA869" stroke="#fff" stroke-width="2.3"/>
<path d="M540.96 1398.06L636.55 1514.54A346.23 346.23 0 0 1 609.25 1534.78L525.54 1409.49A195.55 195.55 0 0 0 540.96 1398.06Z" fill="#2FB4AF" stroke="#fff" stroke-width="2.3"/>
<path d="M525.54 1409.49L609.08 1534.52A345.92 345.92 0 0 1 579.97 1551.98L509.08 1419.36A195.55 195.55 0 0 0 525.54 1409.49Z" fill="#ADCE88" stroke="#fff" stroke-width="2.3"/>
<path d="M509.08 1419.36L579.17 1550.49A344.23 344.23 0 0 1 548.63 1564.93L491.73 1427.56A195.55 195.55 0 0 0 509.08 1419.36Z" fill="#DE98BA" stroke="#fff" stroke-width="2.3"/>
<path d="M491.73 1427.56L549.69 1567.48A347 347 0 0 1 517.63 1578.96L473.67 1434.03A195.55 195.55 0 0 0 491.73 1427.56Z" fill="#FFA272" stroke="#fff" stroke-width="2.3"/>
<path d="M416.9 1442.45L416.9 1596.05A349.15 349.15 0 0 1 382.68 1594.37L397.73 1441.51A195.55 195.55 0 0 0 416.9 1442.45Z" fill="#5DA869" stroke="#fff" stroke-width="2.3"/>
<path d="M397.73 1441.51L383.48 1586.26A341 341 0 0 1 350.37 1581.35L378.75 1438.69A195.55 195.55 0 0 0 397.73 1441.51Z" fill="#2FB4AF" stroke="#fff" stroke-width="2.3"/>
<path d="M378.75 1438.69L348.78 1589.34A349.15 349.15 0 0 1 315.55 1581.02L360.13 1434.03A195.55 195.55 0 0 0 378.75 1438.69Z" fill="#ADCE88" stroke="#fff" stroke-width="2.3"/>
<path d="M360.13 1434.03L327.64 1541.16A307.5 307.5 0 0 1 299.23 1530.99L342.07 1427.56A195.55 195.55 0 0 0 360.13 1434.03Z" fill="#DE98BA" stroke="#fff" stroke-width="2.3"/>
<path d="M342.07 1427.56L290.7 1551.58A329.78 329.78 0 0 1 261.44 1537.74L324.72 1419.36A195.55 195.55 0 0 0 342.07 1427.56Z" fill="#FFA272" stroke="#fff" stroke-width="2.3"/>
<path d="M278.63 1385.17L170.01 1493.79A349.15 349.15 0 0 1 147 1468.4L265.74 1370.96A195.55 195.55 0 0 0 278.63 1385.17Z" fill="#5DA869" stroke="#fff" stroke-width="2.3"/>
<path d="M265.74 1370.96L147 1468.4A349.15 349.15 0 0 1 126.59 1440.88L254.31 1355.54A195.55 195.55 0 0 0 265.74 1370.96Z" fill="#2FB4AF" stroke="#fff" stroke-width="2.3"/>
<path d="M254.31 1355.54L126.59 1440.88A349.15 349.15 0 0 1 108.98 1411.49L244.44 1339.08A195.55 195.55 0 0 0 254.31 1355.54Z" fill="#ADCE88" stroke="#fff" stroke-width="2.3"/>
<path d="M244.44 1339.08L108.98 1411.49A349.15 349.15 0 0 1 94.33 1380.51L236.24 1321.73A195.55 195.55 0 0 0 244.44 1339.08Z" fill="#DE98BA" stroke="#fff" stroke-width="2.3"/>
<path d="M236.24 1321.73L94.33 1380.51A349.15 349.15 0 0 1 82.78 1348.25L229.77 1303.67A195.55 195.55 0 0 0 236.24 1321.73Z" fill="#FFA272" stroke="#fff" stroke-width="2.3"/>
<path d="M221.35 1246.9L90.81 1246.9A326.09 326.09 0 0 1 92.38 1214.94L222.29 1227.73A195.55 195.55 0 0 0 221.35 1246.9Z" fill="#5DA869" stroke="#fff" stroke-width="2.3"/>
<path d="M222.29 1227.73L92.99 1215A325.48 325.48 0 0 1 97.67 1183.4L225.11 1208.75A195.55 195.55 0 0 0 222.29 1227.73Z" fill="#2FB4AF" stroke="#fff" stroke-width="2.3"/>
<path d="M225.11 1208.75L91.64 1182.2A331.63 331.63 0 0 1 99.55 1150.63L229.77 1190.13A195.55 195.55 0 0 0 225.11 1208.75Z" fill="#ADCE88" stroke="#fff" stroke-width="2.3"/>
<path d="M229.77 1190.13L123.82 1158A306.27 306.27 0 0 1 133.95 1129.7L236.24 1172.07A195.55 195.55 0 0 0 229.77 1190.13Z" fill="#DE98BA" stroke="#fff" stroke-width="2.3"/>
<path d="M236.24 1172.07L115.91 1122.23A325.79 325.79 0 0 1 129.58 1093.32L244.44 1154.72A195.55 195.55 0 0 0 236.24 1172.07Z" fill="#FFA272" stroke="#fff" stroke-width="2.3"/>
<path d="M278.63 1108.63L175.01 1005.01A342.08 342.08 0 0 1 199.89 982.47L292.84 1095.74A195.55 195.55 0 0 0 278.63 1108.63Z" fill="#5DA869" stroke="#fff" stroke-width="2.3"/>
<path d="M292.84 1095.74L199.98 982.59A341.93 341.93 0 0 1 226.94 962.6L308.26 1084.31A195.55 195.55 0 0 0 292.84 1095.74Z" fill="#2FB4AF" stroke="#fff" stroke-width="2.3"/>
<path d="M308.26 1084.31L227.19 962.98A341.46 341.46 0 0 1 255.93 945.75L324.72 1074.44A195.55 195.55 0 0 0 308.26 1084.31Z" fill="#ADCE88" stroke="#fff" stroke-width="2.3"/>
<path d="M324.72 1074.44L255.72 945.35A341.93 341.93 0 0 1 286.05 931L342.07 1066.24A195.55 195.55 0 0 0 324.72 1074.44Z" fill="#DE98BA" stroke="#fff" stroke-width="2.3"/>
<path d="M342.07 1066.24L285.99 930.86A342.08 342.08 0 0 1 317.6 919.55L360.13 1059.77A195.55 195.55 0 0 0 342.07 1066.24Z" fill="#FFA272" stroke="#fff" stroke-width="2.3"/>
<path d="M416.9 1057.4A189.5 189.5 0 0 1 506.23 1079.78M550.9 1112.9A189.5 189.5 0 0 1 598.24 1191.89M606.4 1246.9A189.5 189.5 0 0 1 584.02 1336.23M550.9 1380.9A189.5 189.5 0 0 1 471.91 1428.24M416.9 1436.4A189.5 189.5 0 0 1 327.57 1414.02M282.9 1380.9A189.5 189.5 0 0 1 235.56 1301.91M227.4 1246.9A189.5 189.5 0 0 1 249.78 1157.57M282.9 1112.9A189.5 189.5 0 0 1 361.89 1065.56" fill="none" stroke="#1a1a1a" stroke-width="1.9"/>
<path id="lpC0" d="M328.83 1099.97A171.3 171.3 0 0 1 563.83 1158.83" fill="none"/>
<text font-size="17.5" text-anchor="middle"><textPath href="#lpC0" startOffset="50%">train data</textPath></text>
<path id="lpC1" d="M461.03 1082.93A169.8 169.8 0 0 1 580.87 1291.03" fill="none"/>
<text font-size="17.5" text-anchor="middle"><textPath href="#lpC1" startOffset="50%">test data</textPath></text>
<path id="lpC2" d="M512.1 1402.02A182 182 0 0 0 572.02 1151.7" fill="none"/>
<text font-size="17.5" text-anchor="middle"><textPath href="#lpC2" startOffset="50%">GPL570</textPath></text>
<path id="lpC3" d="M372.92 1422.48A181 181 0 0 0 592.48 1290.88" fill="none"/>
<text font-size="17.5" text-anchor="middle"><textPath href="#lpC3" startOffset="50%">GSE121212</textPath></text>
<path id="lpC4" d="M261.65 1339.95A181 181 0 0 0 509.95 1402.15" fill="none"/>
<text font-size="17.5" text-anchor="middle"><textPath href="#lpC4" startOffset="50%">GSE109248</textPath></text>
<path id="lpC5" d="M241.32 1202.92A181 181 0 0 0 372.92 1422.48" fill="none"/>
<text font-size="17.5" text-anchor="middle"><textPath href="#lpC5" startOffset="50%">GSE66511</textPath></text>
<path id="lpC6" d="M271.66 1332.92A168.8 168.8 0 0 1 330.88 1101.66" fill="none"/>
<text font-size="17.5" text-anchor="middle"><textPath href="#lpC6" startOffset="50%">GSE80047</textPath></text>
<path id="lpC7" d="M254.69 1202.03A168.3 168.3 0 0 1 461.77 1084.69" fill="none"/>
<text font-size="17.5" text-anchor="middle"><textPath href="#lpC7" startOffset="50%">GSE53431</textPath></text>
<text x="401.3" y="904.8" font-size="21" fill="#BEBEBE" text-anchor="end">1</text>
<text x="408.7" y="942.6" font-size="21" fill="#BEBEBE" text-anchor="end">0.75</text>
<text x="408" y="980.6" font-size="21" fill="#BEBEBE" text-anchor="end">0.5</text>
<text x="412" y="1018.7" font-size="21" fill="#BEBEBE" text-anchor="end">0.25</text>
<text x="405.5" y="31.6" font-size="35" text-anchor="middle">AUC</text>
<text x="1554" y="31.4" font-size="35" text-anchor="middle">Accuracy</text>
<text x="399.8" y="871.2" font-size="35" text-anchor="middle">F1 score</text>
<text x="39" y="40.4" font-size="56">A</text>
<text x="1154" y="40.5" font-size="56">B</text>
<text x="41" y="865.6" font-size="56">C</text>
<text x="1153" y="865.5" font-size="56">D</text>
<text x="43" y="1718.5" font-size="56">E</text>
<text x="757" y="1717.8" font-size="56">F</text>
<text x="1553" y="1718" font-size="56">G</text>
<rect x="916.3" y="301.8" width="27.9" height="27.4" fill="#5DA869"/>
<text x="964" y="328.5" font-size="28">rf</text>
<rect x="916.3" y="350.3" width="27.9" height="27.6" fill="#2FB4AF"/>
<text x="964" y="376.2" font-size="28">naive bayes</text>
<rect x="916.3" y="398.3" width="27.9" height="27.4" fill="#ADCE88"/>
<text x="964" y="422.6" font-size="28">avNNet</text>
<rect x="916.3" y="444.8" width="27.9" height="27.6" fill="#DE98BA"/>
<text x="964" y="468.3" font-size="28">svmRadial</text>
<rect x="916.3" y="491.2" width="27.9" height="27.6" fill="#FFA272"/>
<text x="964" y="514" font-size="28">glmnet</text>
<rect x="1259.7" y="922.4" width="628.6" height="628.7" fill="#fff"/>
<path d="M1865.9 923.4V1550.1M1260.7 1527.9H1887.3M1807.63 923.4V1550.1M1260.7 1469.65H1887.3M1749.36 923.4V1550.1M1260.7 1411.4H1887.3M1691.09 923.4V1550.1M1260.7 1353.15H1887.3M1632.82 923.4V1550.1M1260.7 1294.9H1887.3M1574.55 923.4V1550.1M1260.7 1236.65H1887.3M1516.28 923.4V1550.1M1260.7 1178.4H1887.3M1458.01 923.4V1550.1M1260.7 1120.15H1887.3M1399.74 923.4V1550.1M1260.7 1061.9H1887.3M1341.47 923.4V1550.1M1260.7 1003.65H1887.3M1283.2 923.4V1550.1M1260.7 945.4H1887.3" stroke="#DCDCDC" stroke-width="1.3" stroke-dasharray="1.6 3.8" fill="none"/>
<path d="M1259.7 1551.1L1888.3 922.4" stroke="#A0A0A0" stroke-width="1.3" fill="none"/>
<path d="M1283.2 1527.9L1283.2 1332.53L1287.22 1332.53L1287.22 1136.69L1296.72 1136.69L1296.72 1127.14L1301.38 1127.14L1301.38 1008.89L1305.93 1008.89L1305.93 1004.23L1310.3 1004.23L1310.3 999.57L1319.33 999.57L1319.33 986.18L1323.41 986.18L1323.41 981.52L1337.39 981.52L1337.39 976.86L1355.45 976.86L1355.45 972.2L1364.78 972.2L1364.78 967.54L1388.09 967.54L1388.09 963.46L1456.26 963.46L1456.26 958.8L1624.66 958.8L1624.66 953.56L1646.8 953.56L1646.8 949.48L1761.6 949.48L1761.6 945.4L1865.9 945.4" stroke="#FF7F0E" stroke-width="2.5" fill="none" stroke-linecap="round" stroke-linejoin="miter"/>
<rect x="1259.7" y="922.4" width="628.6" height="628.7" fill="none" stroke="#1a1a1a" stroke-width="1.5"/>
<path d="M1246.5 1527.9H1259.7M1865.9 1551.1V1564.6M1246.5 1411.4H1259.7M1749.36 1551.1V1564.6M1246.5 1294.9H1259.7M1632.82 1551.1V1564.6M1246.5 1178.4H1259.7M1516.28 1551.1V1564.6M1246.5 1061.9H1259.7M1399.74 1551.1V1564.6M1246.5 945.4H1259.7M1283.2 1551.1V1564.6" stroke="#1a1a1a" stroke-width="1.5"/>
<text x="1241.5" y="1535.9" font-size="28" text-anchor="end">0.0</text>
<text x="1867.4" y="1587" font-size="28" text-anchor="middle">0.0</text>
<text x="1241.5" y="1419.4" font-size="28" text-anchor="end">0.2</text>
<text x="1750.86" y="1587" font-size="28" text-anchor="middle">0.2</text>
<text x="1241.5" y="1302.9" font-size="28" text-anchor="end">0.4</text>
<text x="1634.32" y="1587" font-size="28" text-anchor="middle">0.4</text>
<text x="1241.5" y="1186.4" font-size="28" text-anchor="end">0.6</text>
<text x="1517.78" y="1587" font-size="28" text-anchor="middle">0.6</text>
<text x="1241.5" y="1069.9" font-size="28" text-anchor="end">0.8</text>
<text x="1401.24" y="1587" font-size="28" text-anchor="middle">0.8</text>
<text x="1241.5" y="953.4" font-size="28" text-anchor="end">1.0</text>
<text x="1284.7" y="1587" font-size="28" text-anchor="middle">1.0</text>
<text x="1583.8" y="1631.4" font-size="28" text-anchor="middle">Specificity</text>
<text transform="translate(1170.9 1208.4) rotate(-90)" font-size="28" text-anchor="middle">Sensitivity</text>
<text x="1572" y="872" font-size="35" text-anchor="middle">Baseline (LS &amp; NS)</text>
<text x="1574.2" y="1272.7" font-size="28" fill="#FF7F0E">Model : avNNet</text>
<text x="1574.2" y="1311.98" font-size="28" fill="#FF7F0E">AUC : 0.966</text>
<text x="1574.2" y="1351.26" font-size="28" fill="#FF7F0E">Accuracy : 0.930</text>
<text x="1574.2" y="1390.54" font-size="28" fill="#FF7F0E">Recall : 0.938</text>
<text x="1574.2" y="1429.82" font-size="28" fill="#FF7F0E">Precision : 0.923</text>
<text x="1574.2" y="1469.1" font-size="28" fill="#FF7F0E">F1 score : 0.930</text>
<rect x="89.6" y="1807.8" width="613.2" height="613" fill="#fff"/>
<path d="M680.5 1808.8V2419.8M90.6 2398.3H701.8M623.65 1808.8V2419.8M90.6 2341.51H701.8M566.8 1808.8V2419.8M90.6 2284.72H701.8M509.95 1808.8V2419.8M90.6 2227.93H701.8M453.1 1808.8V2419.8M90.6 2171.14H701.8M396.25 1808.8V2419.8M90.6 2114.35H701.8M339.4 1808.8V2419.8M90.6 2057.56H701.8M282.55 1808.8V2419.8M90.6 2000.77H701.8M225.7 1808.8V2419.8M90.6 1943.98H701.8M168.85 1808.8V2419.8M90.6 1887.19H701.8M112 1808.8V2419.8M90.6 1830.4H701.8" stroke="#DCDCDC" stroke-width="1.3" stroke-dasharray="1.6 3.8" fill="none"/>
<path d="M89.6 2420.8L702.8 1807.8" stroke="#A0A0A0" stroke-width="1.3" fill="none"/>
<path d="M112 2398.3L118.14 2398.3L118.14 2331.8L124.68 2331.8L124.68 2275.52L130.99 2275.52L130.99 2192.32L137.24 2192.32L137.24 2170.4L143.55 2170.4L143.55 2030.98L156.4 2030.98L156.4 1930.92L162.43 1930.92L162.43 1908.37L168.68 1908.37L168.68 1880.77L175.22 1880.77L175.22 1869.7L181.3 1869.7L181.3 1864.08L187.5 1864.08L187.5 1858L200.29 1858L200.29 1847.1L307.79 1847.1L307.79 1841.59L320.07 1841.59L320.07 1835.91L522.4 1835.91L522.4 1830.4L680.5 1830.4" stroke="#2CA02C" stroke-width="2.3" fill="none" stroke-linecap="round" stroke-linejoin="miter"/>
<path d="M112 2398.3L112 2376.15L120.53 2376.15L120.53 2303.57L128.77 2303.57L128.77 2086.58L137.13 2086.58L137.13 2058.18L154.07 2058.18L154.07 2014L162.03 2014L162.03 1969.71L170.38 1969.71L170.38 1963.97L179.08 1963.97L179.08 1903.2L186.99 1903.2L186.99 1880.77L195.68 1880.77L195.68 1869.7L204.21 1869.7L204.21 1864.13L220.92 1864.13L220.92 1858.34L270.9 1858.34L270.9 1852.72L295.91 1852.72L295.91 1847.1L479.88 1847.1L479.88 1841.47L488.29 1841.47L488.29 1835.91L613.3 1835.91L613.3 1830.4L680.5 1830.4" stroke="#1F77B4" stroke-width="2.3" fill="none" stroke-linecap="round" stroke-linejoin="miter"/>
<rect x="89.6" y="1807.8" width="613.2" height="613" fill="none" stroke="#1a1a1a" stroke-width="1.5"/>
<path d="M76.1 2398.3H89.6M680.5 2420.8V2434M76.1 2284.72H89.6M566.8 2420.8V2434M76.1 2171.14H89.6M453.1 2420.8V2434M76.1 2057.56H89.6M339.4 2420.8V2434M76.1 1943.98H89.6M225.7 2420.8V2434M76.1 1830.4H89.6M112 2420.8V2434" stroke="#1a1a1a" stroke-width="1.5"/>
<text x="73.3" y="2406.9" font-size="28.8" text-anchor="end">0.0</text>
<text x="680.8" y="2458.2" font-size="28" text-anchor="middle">0.0</text>
<text x="73.3" y="2293.32" font-size="28.8" text-anchor="end">0.2</text>
<text x="567.1" y="2458.2" font-size="28" text-anchor="middle">0.2</text>
<text x="73.3" y="2179.74" font-size="28.8" text-anchor="end">0.4</text>
<text x="453.4" y="2458.2" font-size="28" text-anchor="middle">0.4</text>
<text x="73.3" y="2066.16" font-size="28.8" text-anchor="end">0.6</text>
<text x="339.7" y="2458.2" font-size="28" text-anchor="middle">0.6</text>
<text x="73.3" y="1952.58" font-size="28.8" text-anchor="end">0.8</text>
<text x="226" y="2458.2" font-size="28" text-anchor="middle">0.8</text>
<text x="73.3" y="1839" font-size="28.8" text-anchor="end">1.0</text>
<text x="112.3" y="2458.2" font-size="28" text-anchor="middle">1.0</text>
<text x="392.3" y="2489.7" font-size="28" text-anchor="middle">Specificity</text>
<text transform="translate(21.8 2109.5) rotate(-90)" font-size="28" text-anchor="middle">Sensitivity</text>
<text x="398.6" y="1776.1" font-size="42.4" text-anchor="middle">LS (pre-treatment &amp; post-treatment)</text>
<rect x="347.4" y="2163.7" width="333.5" height="234.6" fill="#fff"/>
<path d="M347.4 2163.7V2398.3M489.2 2163.7V2398.3M586.2 2163.7V2398.3M680.9 2163.7V2398.3M347.4 2163.7H680.9M347.4 2196.8H680.9M347.4 2230.5H680.9M347.4 2263.8H680.9M347.4 2297.6H680.9M347.4 2330.9H680.9M347.4 2364.6H680.9M347.4 2398.3H680.9" stroke="#D4D4D4" stroke-width="1.2" fill="none"/>
<text x="354.3" y="2192.5" font-size="27.5" fill="#4D4D4D">Model</text>
<text x="493.9" y="2192.5" font-size="27.5" fill="#2CA02C">avNNet</text>
<text x="592.3" y="2192.5" font-size="27.5" fill="#1F77B4">avNNet</text>
<text x="354.3" y="2225.6" font-size="27.5" fill="#4D4D4D">Times<tspan font-size="20">(weeks)</tspan></text>
<text x="493.9" y="2225.6" font-size="27.5" fill="#2CA02C">0 vs 12</text>
<text x="592.3" y="2225.6" font-size="27.5" fill="#1F77B4">0 vs 4</text>
<text x="354.3" y="2259.3" font-size="27.5" fill="#4D4D4D">AUC</text>
<text x="493.9" y="2259.3" font-size="27.5" fill="#2CA02C">0.932</text>
<text x="592.3" y="2259.3" font-size="27.5" fill="#1F77B4">0.919</text>
<text x="354.3" y="2292.6" font-size="27.5" fill="#4D4D4D">Accuracy</text>
<text x="493.9" y="2292.6" font-size="27.5" fill="#2CA02C">0.912</text>
<text x="592.3" y="2292.6" font-size="27.5" fill="#1F77B4">0.877</text>
<text x="354.3" y="2326.4" font-size="27.5" fill="#4D4D4D">Recall</text>
<text x="493.9" y="2326.4" font-size="27.5" fill="#2CA02C">0.931</text>
<text x="592.3" y="2326.4" font-size="27.5" fill="#1F77B4">0.882</text>
<text x="354.3" y="2359.7" font-size="27.5" fill="#4D4D4D">Precsion</text>
<text x="493.9" y="2359.7" font-size="27.5" fill="#2CA02C">0.905</text>
<text x="592.3" y="2359.7" font-size="27.5" fill="#1F77B4">0.909</text>
<text x="354.3" y="2393.4" font-size="27.5" fill="#4D4D4D">F1 score</text>
<text x="493.9" y="2393.4" font-size="27.5" fill="#2CA02C">0.918</text>
<text x="592.3" y="2393.4" font-size="27.5" fill="#1F77B4">0.895</text>
<circle cx="947.67" cy="1863.22" r="40.09" fill="#EFB388"/>
<circle cx="1049.92" cy="1863.22" r="18.05" fill="#FCF0E7"/>
<circle cx="1254.42" cy="1863.22" r="6.59" fill="#FFFDFC"/>
<circle cx="1353.4" cy="1863.22" r="36.69" fill="#87C8B5"/>
<circle cx="1049.92" cy="1965.47" r="18.05" fill="#FCF0E7"/>
<circle cx="1254.42" cy="1965.47" r="0" fill="#FFFFFF"/>
<circle cx="1353.4" cy="1965.47" r="38.14" fill="#7DC3AF"/>
<circle cx="1152.17" cy="2067.72" r="43.22" fill="#ECA675"/>
<circle cx="1254.42" cy="2067.72" r="15.46" fill="#FDF4ED"/>
<circle cx="1353.4" cy="2067.72" r="8.07" fill="#FEFCFA"/>
<circle cx="1254.42" cy="2169.97" r="8.07" fill="#FEFCFA"/>
<circle cx="1353.4" cy="2169.97" r="8.07" fill="#FEFCFA"/>
<circle cx="1353.4" cy="2272.22" r="9.32" fill="#FEFBF9"/>
<path d="M794.3 1812.1V2425.6M794.3 1812.1H1404.4M896.55 1812.1V2425.6M794.3 1914.35H1404.4M998.8 1812.1V2425.6M794.3 2016.6H1404.4M1101.05 1812.1V2425.6M794.3 2118.85H1404.4M1203.3 1812.1V2425.6M794.3 2221.1H1404.4M1305.55 1812.1V2425.6M794.3 2323.35H1404.4M1407.8 1812.1V2425.6M794.3 2425.6H1404.4M1302.5 1812.1V2220.8M1404.4 1812.1V2425.3" stroke="#CFCFCF" stroke-width="1.3" fill="none"/>
<text x="845.42" y="1871.92" font-size="26.5" text-anchor="middle">PASI</text>
<text x="845.42" y="1974.17" font-size="26.5" text-anchor="middle">0.74</text>
<text x="947.67" y="1974.17" font-size="26.5" text-anchor="middle">avNNet</text>
<text x="845.42" y="2076.42" font-size="26.5" text-anchor="middle">0.15</text>
<text x="947.67" y="2076.42" font-size="26.5" text-anchor="middle">0.15</text>
<text x="1049.92" y="2076.42" font-size="26.5" text-anchor="middle">BMI</text>
<text x="845.42" y="2178.67" font-size="26.5" text-anchor="middle">0.16</text>
<text x="947.67" y="2178.67" font-size="26.5" text-anchor="middle">0.16</text>
<text x="1049.92" y="2178.67" font-size="26.5" text-anchor="middle">0.86</text>
<text x="1152.17" y="2178.67" font-size="26.5" text-anchor="middle">Weight</text>
<text x="845.42" y="2280.92" font-size="26.5" text-anchor="middle">0.02</text>
<text x="947.67" y="2280.92" font-size="26.5" text-anchor="middle">0.00</text>
<text x="1049.92" y="2280.92" font-size="26.5" text-anchor="middle">0.11</text>
<text x="1152.17" y="2280.92" font-size="26.5" text-anchor="middle">0.03</text>
<text x="1254.42" y="2280.92" font-size="26.5" text-anchor="middle">Age</text>
<text x="845.42" y="2383.17" font-size="26.5" text-anchor="middle">−0.62</text>
<text x="947.67" y="2383.17" font-size="26.5" text-anchor="middle">−0.67</text>
<text x="1049.92" y="2383.17" font-size="26.5" text-anchor="middle">0.03</text>
<text x="1152.17" y="2383.17" font-size="26.5" text-anchor="middle">0.03</text>
<text x="1254.42" y="2383.17" font-size="26.5" text-anchor="middle">0.04</text>
<text x="1354.5" y="2383.17" font-size="26.5" text-anchor="middle">Time</text>
<defs><linearGradient id="cb" x1="0" y1="0" x2="0" y2="1"><stop offset="0" stop-color="#E9985E"/><stop offset="0.5" stop-color="#FFFFFF"/><stop offset="1" stop-color="#3DA687"/></linearGradient></defs>
<rect x="1414.9" y="1811.5" width="19.6" height="613.8" fill="url(#cb)" stroke="#1a1a1a" stroke-width="1"/>
<text x="1446.5" y="1820.5" font-size="26.5">1</text>
<text x="1446.5" y="1881.88" font-size="26.5">0.8</text>
<text x="1446.5" y="1943.26" font-size="26.5">0.6</text>
<text x="1446.5" y="2004.64" font-size="26.5">0.4</text>
<text x="1446.5" y="2066.02" font-size="26.5">0.2</text>
<text x="1446.5" y="2127.4" font-size="26.5">0</text>
<text x="1446.5" y="2188.78" font-size="26.5">−0.2</text>
<text x="1446.5" y="2250.16" font-size="26.5">−0.4</text>
<text x="1446.5" y="2311.54" font-size="26.5">−0.6</text>
<text x="1446.5" y="2372.92" font-size="26.5">−0.8</text>
<text x="1446.5" y="2434.3" font-size="26.5">−1</text>
<path d="M1434.5 1811.5H1439.5M1434.5 1872.88H1439.5M1434.5 1934.26H1439.5M1434.5 1995.64H1439.5M1434.5 2057.02H1439.5M1434.5 2118.4H1439.5M1434.5 2179.78H1439.5M1434.5 2241.16H1439.5M1434.5 2302.54H1439.5M1434.5 2363.92H1439.5M1434.5 2425.3H1439.5" stroke="#1a1a1a" stroke-width="1.2"/>
<rect x="1628.3" y="1786.1" width="332.9" height="49.1" fill="#fff" stroke="#333" stroke-width="1.5"/>
<text x="1804.6" y="1820.7" font-size="28.2" text-anchor="middle" fill="#1a1a1a">GSE117468</text>
<rect x="1628.3" y="1835.2" width="332.9" height="555" fill="none" stroke="#333" stroke-width="1.5"/>
<text x="1621.5" y="2373.3" font-size="24.5" text-anchor="end" fill="#4D4D4D">0</text>
<text x="1621.5" y="2218" font-size="24.5" text-anchor="end" fill="#4D4D4D">20</text>
<text x="1621.5" y="2062.7" font-size="24.5" text-anchor="end" fill="#4D4D4D">40</text>
<text x="1621.5" y="1907.4" font-size="24.5" text-anchor="end" fill="#4D4D4D">60</text>
<path d="M1624 2365.1H1628.3M1624 2209.8H1628.3M1624 2054.5H1628.3M1624 1899.2H1628.3M1690.4 2390.2V2394M1794.8 2390.2V2394M1908.1 2390.2V2394" stroke="#333" stroke-width="1.4"/>
<path d="M1690.8 2103.8V2187.2 M1690.8 2258.4V2271.7" stroke="#333" stroke-width="2.4"/>
<rect x="1652.5" y="2188.4" width="76.6" height="68.8" fill="#EBC68A" stroke="#333" stroke-width="2.4"/>
<path d="M1652.5 2237.3H1729.1" stroke="#333" stroke-width="5.4"/>
<path d="M1794.9 2240.1V2304.1 M1794.9 2350.4V2365.1" stroke="#333" stroke-width="2.4"/>
<rect x="1756.4" y="2305.3" width="77" height="43.9" fill="#2FB4AF" stroke="#333" stroke-width="2.4"/>
<path d="M1756.4 2332.1H1833.4" stroke="#333" stroke-width="5.4"/>
<path d="M1908.5 2312V2330.9 M1908.5 2349.9V2349.9" stroke="#333" stroke-width="2.4"/>
<rect x="1868.8" y="2332.1" width="79.4" height="16.6" fill="#7EAD94" stroke="#333" stroke-width="2.4"/>
<path d="M1868.8 2343.5H1948.2" stroke="#333" stroke-width="5.4"/>
<path d="M1690.4 1876.2V1864.1H1899.1V1876.2" stroke="#1a1a1a" stroke-width="1.4" fill="none"/>
<text x="1798.4" y="1862.9" font-size="24.4" text-anchor="middle" stroke="#000" stroke-width="0.3">****</text>
<path d="M1794.8 1923V1911.1H1899.1V1923" stroke="#1a1a1a" stroke-width="1.4" fill="none"/>
<text x="1850.6" y="1909.1" font-size="24.4" text-anchor="middle" stroke="#000" stroke-width="0.3">****</text>
<path d="M1690.4 1973.5V1961.6H1794.8V1973.5" stroke="#1a1a1a" stroke-width="1.4" fill="none"/>
<text x="1743.4" y="1955.8" font-size="24.4" text-anchor="middle" stroke="#000" stroke-width="0.3">****</text>
<text x="1700.5" y="2413.7" font-size="24" text-anchor="middle">baseline</text>
<text x="1804.4" y="2413.7" font-size="24" text-anchor="middle">4 weeks</text>
<text x="1912" y="2413.7" font-size="24" text-anchor="middle">12 weeks</text>
<text x="1807.2" y="2446" font-size="27.4" text-anchor="middle">Treatment time</text>
<text transform="translate(1576 2109.4) rotate(-90)" font-size="28" text-anchor="middle">PASI</text>
</svg></body></html>
